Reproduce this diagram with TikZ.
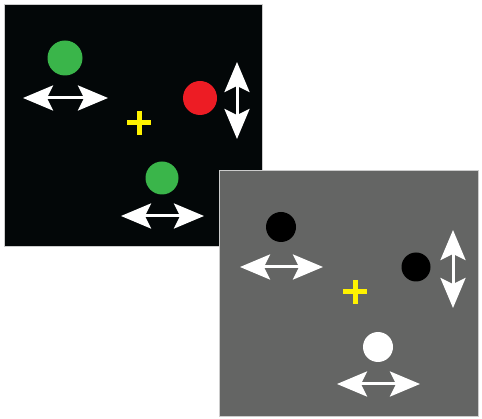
\documentclass[tikz,border=0pt]{standalone}
\usetikzlibrary{arrows.meta}
\definecolor{panelblack}{HTML}{030708}
\definecolor{panelgray}{HTML}{646564}
\definecolor{dotgreen}{HTML}{3AB54A}
\definecolor{dotred}{HTML}{ED1C24}
\definecolor{crossyellow}{HTML}{FFF200}
\tikzset{
  dot/.style={circle,inner sep=0pt,minimum size=#1},
  motion/.style={white,line width=3pt,{Stealth[length=30pt,width=25pt,inset=6pt]}-{Stealth[length=30pt,width=25pt,inset=6pt]}},
  fix/.style={crossyellow,line width=5pt}
}
\begin{document}
\begin{tikzpicture}[x=1pt,y=-1pt]
		\useasboundingbox[fill=white] (0,0) rectangle (482,419);
		% dark panel
		\filldraw[fill=panelblack,draw=gray!40,line width=0.8pt] (4.5,4.5) rectangle (262,246.5);
		\node[dot=35pt,fill=dotgreen] (ga) at (65,58) {};
		\node[dot=34pt,fill=dotred] (ra) at (200,98) {};
		\node[dot=33pt,fill=dotgreen] (gb) at (162,178) {};
		\coordinate (aal) at (23,98);   \coordinate (aar) at (108,98);
		\coordinate (abt) at (237,62);  \coordinate (abb) at (237,139);
		\coordinate (acl) at (121,216); \coordinate (acr) at (204,216);
		\draw[motion] (aal) -- (aar);
		\draw[motion] (abt) -- (abb);
		\draw[motion] (acl) -- (acr);
		\draw[fix] (127,123) -- (151,123);
		\draw[fix] (139,111) -- (139,135);
		% gray panel
		\filldraw[fill=panelgray,draw=gray!40,line width=0.8pt] (219,170.5) rectangle (478.5,416.5);
		\node[dot=30pt,fill=black] (ka) at (281,227) {};
		\node[dot=29pt,fill=black] (kb) at (416,267) {};
		\node[dot=30pt,fill=white] (wa) at (378,347) {};
		\coordinate (bal) at (240,267); \coordinate (bar) at (323,267);
		\coordinate (bbt) at (453,230); \coordinate (bbb) at (453,308);
		\coordinate (bcl) at (337,384); \coordinate (bcr) at (420,384);
		\draw[motion] (bal) -- (bar);
		\draw[motion] (bbt) -- (bbb);
		\draw[motion] (bcl) -- (bcr);
		\draw[fix] (343,292) -- (367,292);
		\draw[fix] (355,280) -- (355,304);
	\end{tikzpicture}
\end{document}
